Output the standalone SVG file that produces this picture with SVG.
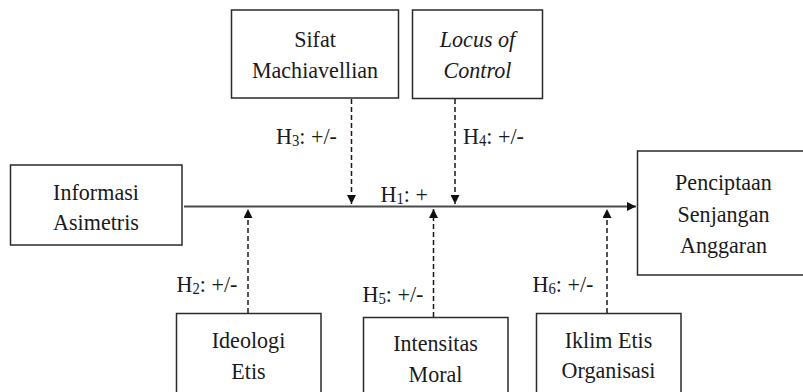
<svg xmlns="http://www.w3.org/2000/svg" width="803" height="392" viewBox="0 0 803 392">
<style>
.box{fill:#fff;stroke:#2a2a2a;stroke-width:1.5}
.t{font-family:"Liberation Serif","Times New Roman",serif;font-size:24px;fill:#1a1a1a;text-anchor:middle}
.it{font-style:italic}
.lbl{font-family:"Liberation Serif","Times New Roman",serif;font-size:24px;fill:#1a1a1a;text-anchor:start}
.sub{font-size:16px}
.main{stroke:#4a4a4a;stroke-width:2;fill:none}
.dash{stroke:#1a1a1a;stroke-width:1.5;stroke-dasharray:5 3;fill:none}
</style>
<defs>
<marker id="ah" viewBox="0 0 10 10" markerUnits="userSpaceOnUse" markerWidth="11" markerHeight="9" refX="10" refY="5" orient="auto">
<path d="M0,0 L10,5 L0,10 z" fill="#111"/>
</marker>
</defs>
<rect width="803" height="392" fill="#fff"/>
<g id="connectors">
<line class="main" x1="184" y1="206.5" x2="636" y2="206.5" marker-end="url(#ah)"/>
<line class="dash" x1="351.5" y1="99" x2="351.5" y2="204" marker-end="url(#ah)"/>
<line class="dash" x1="455" y1="99" x2="455" y2="204" marker-end="url(#ah)"/>
<line class="dash" x1="248" y1="313" x2="248" y2="209" marker-end="url(#ah)"/>
<line class="dash" x1="433.5" y1="317" x2="433.5" y2="209" marker-end="url(#ah)"/>
<line class="dash" x1="607" y1="313" x2="607" y2="209" marker-end="url(#ah)"/>
<text class="lbl" transform="translate(380.5,201.5) scale(0.92,1)">H<tspan class="sub" dy="2">1</tspan><tspan dy="-2">: +</tspan></text>
<text class="lbl" transform="translate(276,143.5) scale(0.92,1)">H<tspan class="sub" dy="2">3</tspan><tspan dy="-2">: +/-</tspan></text>
<text class="lbl" transform="translate(463,143.5) scale(0.92,1)">H<tspan class="sub" dy="2">4</tspan><tspan dy="-2">: +/-</tspan></text>
<text class="lbl" transform="translate(176.5,291.5) scale(0.92,1)">H<tspan class="sub" dy="2">2</tspan><tspan dy="-2">: +/-</tspan></text>
<text class="lbl" transform="translate(362.5,301.5) scale(0.92,1)">H<tspan class="sub" dy="2">5</tspan><tspan dy="-2">: +/-</tspan></text>
<text class="lbl" transform="translate(532.5,291.5) scale(0.92,1)">H<tspan class="sub" dy="2">6</tspan><tspan dy="-2">: +/-</tspan></text>
</g>
<g id="sifat">
<rect class="box" x="231.5" y="10" width="167" height="88"/>
<text class="t" transform="translate(315,47) scale(0.92,1)">Sifat</text>
<text class="t" transform="translate(315,78) scale(0.92,1)">Machiavellian</text>
</g>
<g id="locus">
<rect class="box" x="412.5" y="10" width="130" height="88.5"/>
<text class="t it" transform="translate(477.5,47) scale(0.92,1)">Locus of</text>
<text class="t it" transform="translate(477.5,77.5) scale(0.92,1)">Control</text>
</g>
<g id="informasi">
<rect class="box" x="10.5" y="165" width="171.5" height="80"/>
<text class="t" transform="translate(96,199.5) scale(0.92,1)">Informasi</text>
<text class="t" transform="translate(96,230) scale(0.92,1)">Asimetris</text>
</g>
<g id="penciptaan">
<rect class="box" x="637.5" y="151" width="175" height="124"/>
<text class="t" transform="translate(723.5,190) scale(0.92,1)">Penciptaan</text>
<text class="t" transform="translate(723.5,221.5) scale(0.92,1)">Senjangan</text>
<text class="t" transform="translate(723.5,253) scale(0.92,1)">Anggaran</text>
</g>
<g id="ideologi">
<rect class="box" x="176.5" y="313.5" width="144.5" height="90"/>
<text class="t" transform="translate(248.5,348) scale(0.92,1)">Ideologi</text>
<text class="t" transform="translate(248.5,378.5) scale(0.92,1)">Etis</text>
</g>
<g id="intensitas">
<rect class="box" x="363.5" y="317.5" width="144.5" height="90"/>
<text class="t" transform="translate(435.5,351) scale(0.92,1)">Intensitas</text>
<text class="t" transform="translate(435.5,381.5) scale(0.92,1)">Moral</text>
</g>
<g id="iklim">
<rect class="box" x="536.5" y="313.5" width="144.5" height="90"/>
<text class="t" transform="translate(608.5,347.5) scale(0.92,1)">Iklim Etis</text>
<text class="t" transform="translate(608.5,378) scale(0.92,1)">Organisasi</text>
</g>
</svg>
